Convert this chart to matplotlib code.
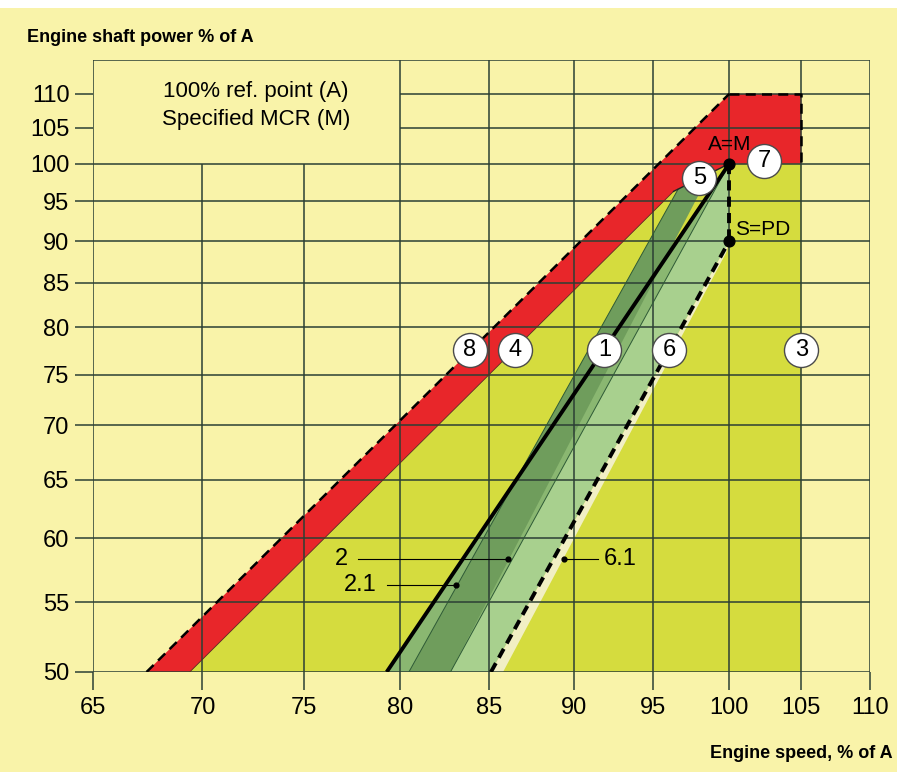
import matplotlib.pyplot as plt
from matplotlib.patches import Polygon, Rectangle

plt.rcParams['font.family'] = ['Liberation Sans', 'DejaVu Sans']

W, H = 897, 772

# axis ticks, % of A
speed_ticks = [65, 70, 75, 80, 85, 90, 95, 100, 105, 110]
power_ticks = [50, 55, 60, 65, 70, 75, 80, 85, 90, 95, 100, 105, 110]
speed_min, speed_max = 65, 110
power_min, power_max = 50, 115.2

# layout lines as (speed, power) end points
line8 = [(67.4, 50), (100, 110)]
line4 = [(69.4, 50), (96.3, 96.3)]
line5 = [(96.3, 96.3), (100, 100)]
line1 = [(79.3, 50), (100, 100)]
line2 = [(82.8, 50), (100, 100)]
line21 = [(80.5, 50), (96.6, 96.6)]
line6 = [(85.1, 50), (100, 90)]
line61 = [(85.8, 50), (99.8, 88.6)]
line7_power = 100
line3_speed = 105
overload_power = 110
point_AM = (100, 100)
point_SPD = (100, 90)
# where the heavy running band leaves line 1
band_top = (98.7, 98.7)
band_knee = (95.8, 88.0)

# numbered circles
circle_labels = ['8', '4', '1', '6', '3', '5', '7']
circle_speed = [83.9, 86.5, 91.9, 96.0, 105.0, 98.0, 102.4]
circle_power = [77.6, 77.6, 77.6, 77.6, 77.6, 98.1, 100.4]

# leader labels: text, dot position, line start, text position
leader_text = ['2', '2.1', '6.1']
leader_dot = [(86.1, 58.3), (83.1, 56.3), (89.4, 58.3)]
leader_end = [77.8, 79.3, 91.5]
leader_text_pos = [(76.9, 58.3), (77.9, 56.3), (92.9, 58.3)]

bg = '#f9f3a9'
yellow = '#d5dc3e'
red = '#e8262a'
light_green = '#a8d08e'
mid_green = '#8ab771'
dark_green = '#6f9d5c'
cream = '#f1efc4'
grid_c = '#2c3f34'

fig = plt.figure(figsize=(W / 100, H / 100), dpi=100, facecolor=bg)
fig.patches.append(Rectangle((0, 1 - 8 / H), 1, 8 / H, transform=fig.transFigure,
                             facecolor='white', edgecolor='none'))
ax = fig.add_axes([93 / W, 1 - 672 / H, (870 - 93) / W, (672 - 60) / H])
ax.set_facecolor(bg)
ax.set_xscale('log')
ax.set_yscale('log')
ax.set_xlim(speed_min, speed_max)
ax.set_ylim(power_min, power_max)
for s in ax.spines.values():
    s.set_visible(False)

ax.set_xticks(speed_ticks, labels=[str(t) for t in speed_ticks])
ax.set_yticks(power_ticks, labels=[str(t) for t in power_ticks])
ax.set_xticks([], minor=True)
ax.set_yticks([], minor=True)
ax.tick_params(length=13, width=1.1, color=grid_c, labelsize=17, pad=5)
ax.tick_params(axis='y', pad=4)


def poly(points, color, z):
    ax.add_patch(Polygon(points, closed=True, facecolor=color,
                         edgecolor='none', zorder=z))


# yellow operating area and red overload area
poly([line4[0], line4[1], line5[1], (line3_speed, line7_power),
      (line3_speed, power_min)], yellow, 1)
poly([line8[0], line8[1], (line3_speed, overload_power),
      (line3_speed, line7_power), line5[1], line5[0], line4[0]], red, 1)

# green bands
poly([line1[0], point_AM, point_SPD, line6[0]], light_green, 2)
poly([line1[0], line1[1], line2[0]], mid_green, 2.1)
poly([line21[0], line21[1], band_top, band_knee, line2[0]], dark_green, 2.2)
poly([line6[0], line61[0], line61[1], line6[1]], cream, 2.3)

# grid
gkw = dict(color=grid_c, lw=1.1, zorder=4, solid_capstyle='butt')
for p in power_ticks:
    x0 = 80 if p > 100 else speed_min
    ax.plot([x0, speed_max], [p, p], **gkw)
for s in speed_ticks:
    y1 = 100 if s in (70, 75) else power_max
    ax.plot([s, s], [power_min, y1], **gkw)
ax.plot([speed_min, speed_max], [power_max, power_max], **gkw)

# lines
ax.plot(*zip(*line8), color='k', lw=1.8, ls=(0, (4, 2.5)), zorder=5)
ax.plot([line8[1][0], line3_speed, line3_speed],
        [overload_power, overload_power, line7_power],
        color='k', lw=1.8, ls=(0, (4, 2.5)), zorder=5)
ax.plot(*zip(*line21), color='#2e5a36', lw=0.7, zorder=5)
ax.plot(*zip(*line2), color='#2e5a36', lw=0.7, zorder=5)
ax.plot(*zip(*line4), color='#5a2a20', lw=0.6, zorder=5)
ax.plot(*zip(*line5), color='#222', lw=1.0, zorder=5)
ax.plot(*zip(*line1), color='k', lw=2.8, zorder=5, solid_capstyle='butt')
ax.plot(*zip(*line6), color='k', lw=2.8, ls=(0, (2.6, 1.6)), zorder=5)
ax.plot([point_AM[0], point_SPD[0]], [point_AM[1], point_SPD[1]],
        color='k', lw=2.8, ls=(0, (2.6, 1.6)), zorder=5)
ax.scatter(*zip(point_AM, point_SPD), s=60, color='k', zorder=6)

# leaders
for t, d, x0, tp in zip(leader_text, leader_dot, leader_end, leader_text_pos):
    ax.plot([x0, d[0]], [d[1], d[1]], color='k', lw=0.8, zorder=6)
    ax.scatter([d[0]], [d[1]], s=12, color='k', zorder=6)
    ax.text(tp[0], tp[1], t, fontsize=17, ha='center', va='center', zorder=8)

# numbered circles
ax.scatter(circle_speed, circle_power, s=600, facecolor='white',
           edgecolor='#4a4a4a', linewidth=1.0, zorder=7)
for lab, x, y in zip(circle_labels, circle_speed, circle_power):
    ax.text(x, y, lab, fontsize=17, ha='center', va='center', zorder=8)

ax.text(100, 101.3, 'A=M', fontsize=15, ha='center', va='bottom', zorder=8)
ax.text(100.4, 91.4, 'S=PD', fontsize=15, ha='left', va='center', zorder=8)

fig.text(256 / W, 1 - 92 / H, '100% ref. point (A)', fontsize=16,
         ha='center', va='center')
fig.text(256 / W, 1 - 120 / H, 'Specified MCR (M)', fontsize=16,
         ha='center', va='center')
fig.text(27 / W, 1 - 38 / H, 'Engine shaft power % of A', fontsize=13,
         fontweight='bold', ha='left', va='center')
fig.text(893 / W, 1 - 753 / H, 'Engine speed, % of A', fontsize=13,
         fontweight='bold', ha='right', va='center')

fig.savefig('out.png', dpi=100, facecolor=bg)
